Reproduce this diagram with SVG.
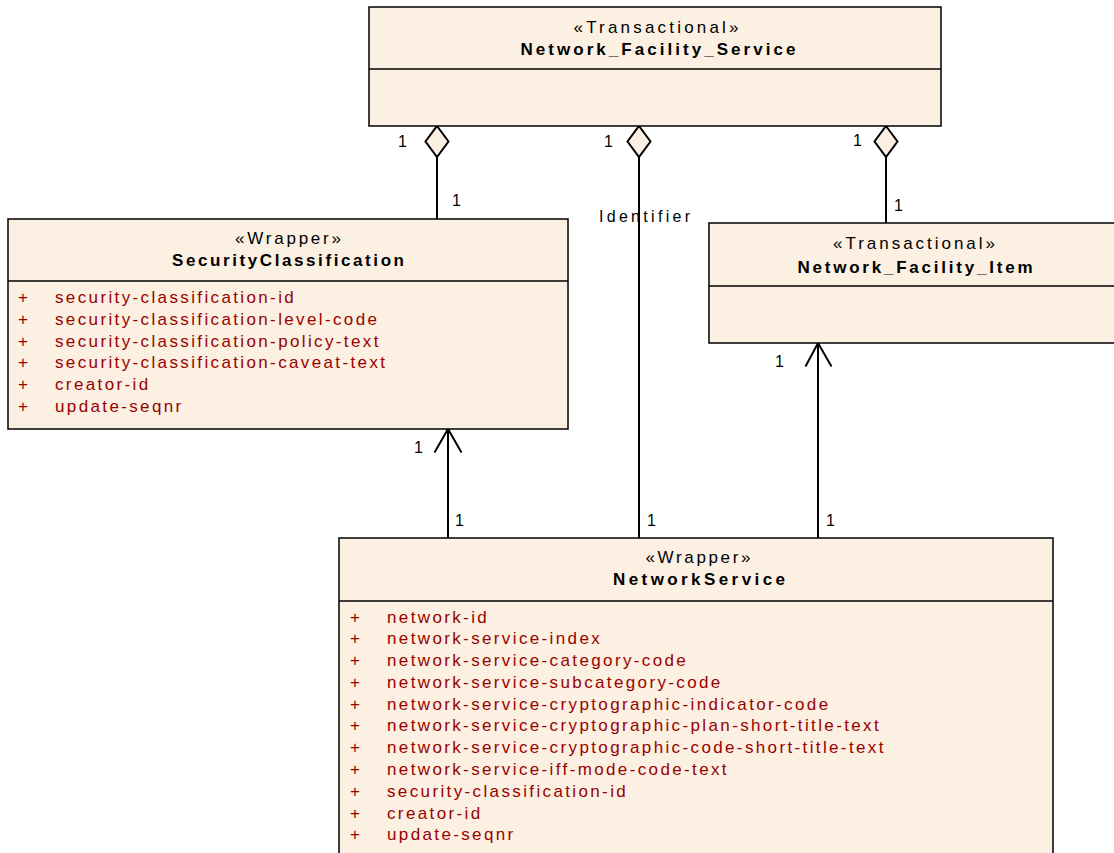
<svg xmlns="http://www.w3.org/2000/svg" width="1114" height="853" viewBox="0 0 1114 853">
<style>
.box{fill:#FBF0E1;stroke:#000;stroke-width:1.5}
.div{stroke:#000;stroke-width:1.5}
.st{font-family:"Liberation Sans",Arial,sans-serif;font-size:17px;fill:#000;text-anchor:middle}
.nm{font-family:"Liberation Sans",Arial,sans-serif;font-size:17px;font-weight:bold;fill:#000;text-anchor:middle}
.at{font-family:"Liberation Sans",Arial,sans-serif;font-size:17px;fill:#990000;letter-spacing:2.37px}
.pl{font-family:"Liberation Sans",Arial,sans-serif;font-size:17px;fill:#990000}
.lb{font-family:"Liberation Sans",Arial,sans-serif;font-size:16px;fill:#000}
.ln{fill:none;stroke:#000;stroke-width:2}
.dm{fill:#FBF0E1;stroke:#000;stroke-width:2}
</style>
<rect width="1114" height="853" fill="#fff"/>
<g id="connectors">
<line class="ln" x1="437" y1="157" x2="437" y2="219"/>
<polygon class="dm" points="437,126 448.5,141.5 437,157 425.5,141.5"/>
<line class="ln" x1="639" y1="157" x2="639" y2="538"/>
<polygon class="dm" points="639,126 650.5,141.5 639,157 627.5,141.5"/>
<line class="ln" x1="886" y1="157" x2="886" y2="223"/>
<polygon class="dm" points="886,126 897.5,141.5 886,157 874.5,141.5"/>
<line class="ln" x1="448" y1="430" x2="448" y2="538"/>
<polyline class="ln" points="434.5,452.5 448,429 461.5,452.5"/>
<line class="ln" x1="818" y1="344" x2="818" y2="538"/>
<polyline class="ln" points="805.5,366.5 818,343 831.5,366.5"/>
<text class="lb" x="398" y="147">1</text>
<text class="lb" x="452" y="206">1</text>
<text class="lb" x="604" y="147">1</text>
<text class="lb" x="599" y="222" textLength="91" lengthAdjust="spacing">Identifier</text>
<text class="lb" x="647" y="526">1</text>
<text class="lb" x="853" y="146">1</text>
<text class="lb" x="894" y="211">1</text>
<text class="lb" x="414" y="453">1</text>
<text class="lb" x="455" y="526">1</text>
<text class="lb" x="775" y="367">1</text>
<text class="lb" x="826" y="526">1</text>
</g>
<g id="Network_Facility_Service">
<rect class="box" x="369" y="7" width="572" height="119"/>
<line class="div" x1="369" y1="69" x2="941" y2="69"/>
<text class="st" x="656" y="33" textLength="165" lengthAdjust="spacing">«Transactional»</text>
<text class="nm" x="658" y="55" textLength="275" lengthAdjust="spacing">Network_Facility_Service</text>
</g>
<g id="SecurityClassification">
<rect class="box" x="8" y="219" width="560" height="210"/>
<line class="div" x1="8" y1="281" x2="568" y2="281"/>
<text class="st" x="288" y="244" textLength="106" lengthAdjust="spacing">«Wrapper»</text>
<text class="nm" x="288" y="266" textLength="232" lengthAdjust="spacing">SecurityClassification</text>
<text class="pl" x="18" y="303">+</text><text class="at" x="55" y="303">security-classification-id</text>
<text class="pl" x="18" y="325">+</text><text class="at" x="55" y="325">security-classification-level-code</text>
<text class="pl" x="18" y="347">+</text><text class="at" x="55" y="347">security-classification-policy-text</text>
<text class="pl" x="18" y="368">+</text><text class="at" x="55" y="368">security-classification-caveat-text</text>
<text class="pl" x="18" y="390">+</text><text class="at" x="55" y="390">creator-id</text>
<text class="pl" x="18" y="412">+</text><text class="at" x="55" y="412">update-seqnr</text>
</g>
<g id="Network_Facility_Item">
<rect class="box" x="709" y="223" width="414" height="120"/>
<line class="div" x1="709" y1="286" x2="1123" y2="286"/>
<text class="st" x="914" y="249" textLength="162" lengthAdjust="spacing">«Transactional»</text>
<text class="nm" x="915" y="273" textLength="235" lengthAdjust="spacing">Network_Facility_Item</text>
</g>
<g id="NetworkService">
<rect class="box" x="339" y="538" width="714" height="330"/>
<line class="div" x1="339" y1="601" x2="1053" y2="601"/>
<text class="st" x="698" y="563" textLength="105" lengthAdjust="spacing">«Wrapper»</text>
<text class="nm" x="699" y="585" textLength="172" lengthAdjust="spacing">NetworkService</text>
<text class="pl" x="350" y="623">+</text><text class="at" x="387" y="623">network-id</text>
<text class="pl" x="350" y="644">+</text><text class="at" x="387" y="644">network-service-index</text>
<text class="pl" x="350" y="666">+</text><text class="at" x="387" y="666">network-service-category-code</text>
<text class="pl" x="350" y="688">+</text><text class="at" x="387" y="688">network-service-subcategory-code</text>
<text class="pl" x="350" y="710">+</text><text class="at" x="387" y="710">network-service-cryptographic-indicator-code</text>
<text class="pl" x="350" y="731">+</text><text class="at" x="387" y="731">network-service-cryptographic-plan-short-title-text</text>
<text class="pl" x="350" y="753">+</text><text class="at" x="387" y="753">network-service-cryptographic-code-short-title-text</text>
<text class="pl" x="350" y="775">+</text><text class="at" x="387" y="775">network-service-iff-mode-code-text</text>
<text class="pl" x="350" y="797">+</text><text class="at" x="387" y="797">security-classification-id</text>
<text class="pl" x="350" y="819">+</text><text class="at" x="387" y="819">creator-id</text>
<text class="pl" x="350" y="840">+</text><text class="at" x="387" y="840">update-seqnr</text>
</g>
</svg>
